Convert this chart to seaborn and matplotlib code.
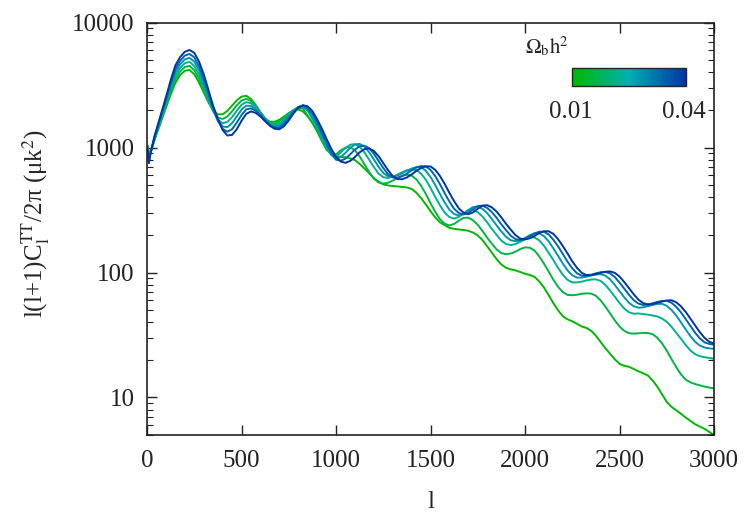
import numpy as np
import pandas as pd
import matplotlib
matplotlib.use("Agg")
import matplotlib.pyplot as plt
import seaborn as sns
from matplotlib.colors import LinearSegmentedColormap, Normalize
from matplotlib.cm import ScalarMappable
from matplotlib.ticker import LogLocator, NullFormatter, NullLocator

# multipole l (sampling positions)
ell = [2, 10, 20, 40, 70] + list(range(100, 3001, 25))

omega_b = [0.01, 0.016, 0.022, 0.028, 0.034, 0.04]

dl_010 = [1050, 920, 930, 1150, 1550,
          2080, 2650, 3300, 3800,
          4120, 4190, 3865, 3327,
          2770, 2307, 1987, 1845,
          1849, 1966, 2167, 2388,
          2560, 2598, 2455, 2193,
          1923, 1714, 1610, 1610,
          1671, 1774, 1891, 1982,
          2020, 1950, 1781, 1570,
          1350, 1130, 960, 890,
          855, 845, 836, 820,
          794, 740, 682, 624,
          571, 535, 508, 498,
          493, 489, 484, 480,
          467, 436, 395, 351,
          310, 276, 252, 240,
          228, 224, 221, 219,
          216, 209, 198, 182,
          162, 144, 128, 116,
          109, 106, 104, 101,
          97.7, 95.5, 92.5, 85,
          76, 66, 56.8, 49.9,
          44.7, 42.2, 40.7, 38.9,
          37, 36, 34.2, 31.2,
          27.8, 24.8, 22.4, 20.2,
          18.6, 17.9, 17.6, 16.9,
          16.2, 15.6, 15.0, 13.7,
          12.2, 10.6, 9.2, 8.4,
          7.9, 7.4, 6.9, 6.5,
          6.1, 5.85, 5.6, 5.3,
          5.0]

dl_016 = [1035, 884, 928, 1167, 1592,
          2163, 2790, 3522, 4060,
          4419, 4510, 4178, 3573,
          2911, 2353, 1959, 1742,
          1694, 1774, 1950, 2178,
          2377, 2455, 2366, 2161,
          1912, 1706, 1581, 1557,
          1615, 1727, 1872, 2004,
          2075, 2056, 1800, 1600,
          1400, 1170, 980, 890,
          881, 951, 999, 1005,
          953, 852, 738, 640,
          565, 526, 515, 523,
          544, 571, 596, 606,
          597, 558, 496, 426,
          359, 307, 267, 246,
          238, 245, 260, 274,
          275, 262, 241, 215,
          190, 170, 153, 143,
          140, 142, 147, 154,
          159, 158, 150, 135,
          118, 102, 87.5, 76.8,
          69.7, 66.2, 65.8, 66.4,
          67.6, 68.1, 67.8, 65.2,
          59.9, 53.4, 47.1, 41.4,
          37, 34.1, 32.7, 32.4,
          32.6, 32.8, 32.8, 32.1,
          30.1, 27.1, 23.7, 20.3,
          17.5, 15.3, 13.9, 13.2,
          12.8, 12.5, 12.2, 12.0,
          11.8]

dl_022 = [1021, 848, 926, 1185, 1635,
          2249, 2940, 3758, 4330,
          4739, 4860, 4508, 3848,
          3090, 2433, 1963, 1675,
          1567, 1603, 1750, 1972,
          2203, 2312, 2270, 2109,
          1888, 1690, 1556, 1517,
          1560, 1677, 1836, 1995,
          2104, 2113, 1968, 1710,
          1450, 1200, 1000, 870,
          848, 912, 993, 1054,
          1068, 1015, 917, 802,
          700, 620, 580, 571,
          584, 607, 635, 658,
          666, 662, 620, 553,
          477, 403, 345, 302,
          278, 270, 279, 298,
          315, 317, 304, 281,
          252, 223, 200, 180,
          169, 166, 169, 176,
          185, 191, 191, 181,
          164, 144, 126, 109,
          96, 87.4, 83.4, 83.3,
          84.5, 86.4, 87.9, 88.1,
          85.7, 79.7, 71.8, 64.1,
          57, 51.5, 48.1, 46.8,
          47, 46.5, 46, 45.3,
          44.5, 42.8, 40.3, 36.8,
          33, 29.5, 26.3, 23.8,
          22.2, 21.4, 21, 20.7,
          20.4]

dl_028 = [1007, 814, 924, 1203, 1679,
          2339, 3100, 4003, 4635,
          5082, 5230, 4887, 4169,
          3296, 2564, 1998, 1648,
          1476, 1459, 1570, 1776,
          2014, 2165, 2160, 2046,
          1858, 1675, 1538, 1476,
          1503, 1613, 1782, 1968,
          2113, 2150, 2009, 1736,
          1520, 1260, 1040, 880,
          809, 841, 907, 993,
          1058, 1071, 1021, 919,
          806, 704, 627, 590,
          584, 597, 624, 653,
          679, 698, 696, 653,
          582, 502, 425, 364,
          318, 294, 286, 295,
          316, 334, 337, 323,
          299, 268, 238, 213,
          193, 181, 178, 181,
          189, 199, 206, 206,
          196, 178, 156, 136,
          118, 104, 95.1, 91,
          91.1, 92.5, 94.7, 96.5,
          97, 94.5, 88.2, 79.6,
          71, 63.3, 57.3, 53.7,
          52.3, 52.6, 53.8, 55,
          56, 56.2, 54.1, 50.2,
          45.2, 39.9, 35.1, 31,
          27.9, 26, 25.1, 24.7,
          24.5]

dl_034 = [993, 781, 922, 1222, 1723,
          2432, 3265, 4266, 4950,
          5453, 5620, 5284, 4500,
          3556, 2714, 2089, 1644,
          1413, 1340, 1403, 1585,
          1821, 2023, 2061, 1975,
          1820, 1652, 1517, 1445,
          1452, 1549, 1722, 1931,
          2104, 2173, 2089, 1862,
          1600, 1320, 1090, 915,
          801, 785, 816, 883,
          965, 1024, 1036, 989,
          895, 784, 687, 613,
          577, 573, 590, 620,
          658, 692, 712, 707,
          664, 592, 510, 432,
          370, 324, 299, 291,
          301, 321, 340, 343,
          329, 304, 274, 243,
          218, 197, 185, 182,
          186, 194, 205, 212,
          212, 202, 183, 162,
          141, 122, 108, 98.6,
          94.4, 94.5, 96.1, 98.5,
          100.5, 101, 98.6, 92,
          83.2, 74.4, 66.4, 60.1,
          56.4, 55, 55.4, 56.7,
          58.1, 59.2, 59.4, 57.3,
          53.2, 48, 42.4, 37.4,
          33, 29.7, 27.6, 26.8,
          26.4]

dl_040 = [980, 750, 920, 1240, 1770,
          2530, 3450, 4550, 5300,
          5850, 6050, 5740, 4900,
          3880, 2900, 2160, 1700,
          1385, 1250, 1263, 1403,
          1640, 1862, 1950, 1897,
          1775, 1626, 1496, 1416,
          1402, 1483, 1652, 1874,
          2083, 2185, 2140, 1963,
          1690, 1422, 1172, 980,
          843, 774, 755, 782,
          841, 916, 972, 985,
          942, 855, 752, 661,
          592, 560, 558, 577,
          610, 650, 687, 708,
          707, 664, 593, 512,
          434, 372, 326, 301,
          293, 303, 324, 343,
          346, 332, 307, 276,
          245, 220, 199, 187,
          184, 188, 196, 207,
          214, 214, 204, 185,
          163, 142, 123, 109,
          99.5, 95.3, 95.4, 97,
          99.4, 101.4, 102, 99.5,
          92.9, 84, 75.1, 67,
          60.7, 56.9, 55.5, 55.9,
          57.2, 58.6, 59.7, 60,
          57.8, 53.7, 48.4, 42.8,
          37.7, 33.3, 30.0, 27.9,
          27]

series = [dl_010, dl_016, dl_022, dl_028, dl_034, dl_040]

rows = []
for w, vals in zip(omega_b, series):
    for l, v in zip(ell, vals):
        rows.append((l, v, w))
df = pd.DataFrame(rows, columns=["l", "D", "omega"])

sns.set_style("ticks")
plt.rcParams["font.family"] = ["Liberation Serif", "DejaVu Serif"]
plt.rcParams["mathtext.fontset"] = "stix"

cmap = LinearSegmentedColormap.from_list("ob", ["#00b800", "#00b0b0", "#0035a5"])
norm = Normalize(0.01, 0.04)
palette = {w: cmap(norm(w)) for w in omega_b}

fig = plt.figure(figsize=(7.5, 5.15), dpi=100)
ax = fig.add_axes([0.196, 0.1553, 0.756, 0.8006])
sns.lineplot(data=df, x="l", y="D", hue="omega", palette=palette,
             legend=False, ax=ax, linewidth=1.4)

ax.set_yscale("log")
ax.set_xlim(0, 3000)
ax.set_ylim(5, 10000)
ax.set_xticks(range(0, 3001, 500))
ax.set_yticks([10, 100, 1000, 10000])
ax.set_yticklabels(["10", "100", "1000", "10000"])
ax.yaxis.set_minor_locator(LogLocator(base=10, subs=np.arange(2, 10)))
ax.yaxis.set_minor_formatter(NullFormatter())
ax.xaxis.set_minor_locator(NullLocator())
ax.tick_params(which="both", direction="in", top=True, right=True,
               labelsize=18, colors="#222222")
ax.tick_params(which="major", length=7, width=1.0)
ax.tick_params(which="minor", length=4, width=0.8)
ax.tick_params(axis="x", pad=11)
ax.tick_params(axis="y", pad=9)
for s in ax.spines.values():
    s.set_linewidth(1.2)
    s.set_color("#222222")

ax.set_xlabel("l", fontsize=18)
ax.xaxis.set_label_coords(0.5, -0.135)
ax.set_ylabel(r"l(l+1)C$_{\rm l}^{\rm TT}$/2π (μk$^{2}$)", fontsize=18)
ax.yaxis.set_label_coords(-0.168, 0.512)

cax = fig.add_axes([0.7623, 0.8324, 0.152, 0.0361])
cb = fig.colorbar(ScalarMappable(norm=norm, cmap=cmap), cax=cax,
                  orientation="horizontal")
cb.set_ticks([])
cb.outline.set_linewidth(1.0)
fig.text(571 / 750, 1 - 112 / 515, "0.01", ha="center", va="center", fontsize=18)
fig.text(684 / 750, 1 - 112 / 515, "0.04", ha="center", va="center", fontsize=18)
fig.text(525 / 750, 1 - 47 / 515, r"$\Omega_{\rm b}{\rm h}^{2}$",
         ha="left", va="center", fontsize=15)

fig.savefig("out.png", dpi=100)
